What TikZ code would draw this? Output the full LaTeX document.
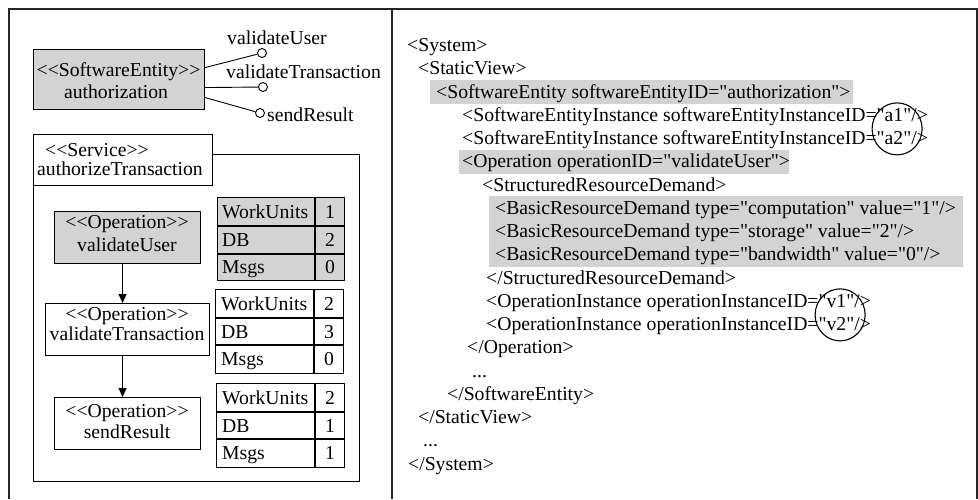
\documentclass[tikz,border=0pt]{standalone}
\usepackage{fontspec}
\newfontfamily\tnr{Liberation Serif}
\usetikzlibrary{arrows.meta,calc}
\definecolor{hl}{RGB}{211,211,211}
\tikzset{
  txt/.style={inner sep=0pt, font=\tnr\fontsize{19.7}{23}\selectfont},
  boxd/.style={draw=black, line width=1.1pt, inner sep=0pt, anchor=north west},
  framel/.style={draw=black!85, line width=1.8pt},
  tline/.style={draw=black, line width=1.1pt},
  lolli/.style={circle, draw=black, line width=0.9pt, minimum size=9pt, inner sep=0pt, fill=white},
  conn/.style={draw=black, line width=0.9pt},
  arr/.style={draw=black, line width=1pt, -{Triangle[width=8pt,length=9pt]}},
  hlbox/.style={fill=hl, draw=none},
  circ/.style={draw=black, line width=1.1pt}
}
\begin{document}
\begin{tikzpicture}[x=1pt,y=-1pt]
\useasboundingbox (0,0) rectangle (978,499);
% outer frame
\draw[framel] (9,499) -- (9,9) -- (977,9) -- (977,499);
\draw[framel] (392,9) -- (392,499);

% ---------------- left panel ----------------
\node[boxd, fill=hl, minimum width=171pt, minimum height=60pt] (se) at (33,49) {};
\node[txt, anchor=base] (seT1) at (118.5,76.5) {<<SoftwareEntity>>};
\node[txt, anchor=base] (seT2) at (116,98.5) {authorization};

\node[lolli] (c1) at (262,53) {};
\node[lolli] (c2) at (263,87) {};
\node[lolli] (c3) at (260,113) {};
\draw[conn] ([yshift=12pt]se.east) -- (c1);
\draw[conn] ([yshift=-8pt]se.east) -- (c2);
\draw[conn] ([yshift=-18pt]se.east) -- (c3);
\node[txt, anchor=base west] (l1) at (227,44.5) {validateUser};
\node[txt, anchor=base west] (l2) at (226,78.5) {validateTransaction};
\node[txt, anchor=base west] (l3) at (267,121.5) {sendResult};

% container and service
\node[boxd, minimum width=326pt, minimum height=327pt] (cont) at (33,154) {};
\node[boxd, fill=white, minimum width=179pt, minimum height=51pt] (svc) at (33,134) {};
\node[txt, anchor=base west] (svcT1) at (45,156.5) {<<Service>>};
\node[txt, anchor=base] (svcT2) at (120,175.5) {authorizeTransaction};

% operations
\node[boxd, fill=hl, minimum width=146pt, minimum height=52pt] (vU) at (54,211) {};
\node[txt, anchor=base] (vUT1) at (127,228.5) {<<Operation>>};
\node[txt, anchor=base] (vUT2) at (127,251.5) {validateUser};

\node[boxd, fill=white, minimum width=164pt, minimum height=52pt] (vT) at (45,303) {};
\node[txt, anchor=base] (vTT1) at (127,320.5) {<<Operation>>};
\node[txt, anchor=base] (vTT2) at (127,340) {validateTransaction};

\node[boxd, fill=white, minimum width=146pt, minimum height=52pt] (sR) at (54,397) {};
\node[txt, anchor=base] (sRT1) at (127,417.5) {<<Operation>>};
\node[txt, anchor=base] (sRT2) at (127,438.5) {sendResult};

\draw[arr] ([xshift=-5pt]vU.south) -- ([xshift=-5pt]vT.north);
\draw[arr] ([xshift=-5pt]vT.south) -- ([xshift=-5pt]sR.north);

% table 1
\node[boxd, fill=hl, minimum width=127pt, minimum height=83pt] (t1) at (217,197) {};
\draw[tline] (315,197) -- (315,280);
\draw[tline] (217,226) -- (344,226);
\draw[tline] (217,254) -- (344,254);
\node[txt, anchor=base west] (t1a) at (222,218) {WorkUnits};
\node[txt, anchor=base west] (t1b) at (222,246.5) {DB};
\node[txt, anchor=base west] (t1c) at (222,273.5) {Msgs};
\node[txt, anchor=base] (t1d) at (330,218) {1};
\node[txt, anchor=base] (t1e) at (330,246.5) {2};
\node[txt, anchor=base] (t1f) at (330,273.5) {0};

% table 2
\node[boxd, fill=white, minimum width=128pt, minimum height=84pt] (t2) at (215,289) {};
\draw[tline] (314,289) -- (314,373);
\draw[tline] (215,318) -- (343,318);
\draw[tline] (215,345) -- (343,345);
\node[txt, anchor=base west] (t2a) at (221,310) {WorkUnits};
\node[txt, anchor=base west] (t2b) at (221,338) {DB};
\node[txt, anchor=base west] (t2c) at (221,365.5) {Msgs};
\node[txt, anchor=base] (t2d) at (329,310) {2};
\node[txt, anchor=base] (t2e) at (329,338) {3};
\node[txt, anchor=base] (t2f) at (329,365.5) {0};

% table 3
\node[boxd, fill=white, minimum width=128pt, minimum height=84pt] (t3) at (216,383) {};
\draw[tline] (315,383) -- (315,467);
\draw[tline] (216,412) -- (344,412);
\draw[tline] (216,439) -- (344,439);
\node[txt, anchor=base west] (t3a) at (222,404) {WorkUnits};
\node[txt, anchor=base west] (t3b) at (222,432) {DB};
\node[txt, anchor=base west] (t3c) at (222,459.5) {Msgs};
\node[txt, anchor=base] (t3d) at (330,404) {2};
\node[txt, anchor=base] (t3e) at (330,432) {1};
\node[txt, anchor=base] (t3f) at (330,459.5) {1};

% ---------------- right panel ----------------
\fill[hlbox] (429.5,80) rectangle (853,104);
\fill[hlbox] (459,150) rectangle (789,174);
\fill[hlbox] (488.5,196) rectangle (963,267);

\node[txt, anchor=base west] (x0) at (407,51.5) {<System>};
\node[txt, anchor=base west] (x1) at (418,74.75) {<StaticView>};
\node[txt, anchor=base west] (x2) at (436,98) {<SoftwareEntity softwareEntityID="authorization">};
\node[txt, anchor=base west] (x3) at (462,121.25) {<SoftwareEntityInstance softwareEntityInstanceID="a1"/>};
\node[txt, anchor=base west] (x4) at (462,144.5) {<SoftwareEntityInstance softwareEntityInstanceID="a2"/>};
\node[txt, anchor=base west] (x5) at (462,167.75) {<Operation operationID="validateUser">};
\node[txt, anchor=base west] (x6) at (482,191) {<StructuredResourceDemand>};
\node[txt, anchor=base west] (x7) at (495,214.25) {<BasicResourceDemand type="computation" value="1"/>};
\node[txt, anchor=base west] (x8) at (495,237.5) {<BasicResourceDemand type="storage" value="2"/>};
\node[txt, anchor=base west] (x9) at (495,260.75) {<BasicResourceDemand type="bandwidth" value="0"/>};
\node[txt, anchor=base west] (x10) at (486,284) {</StructuredResourceDemand>};
\node[txt, anchor=base west] (x11) at (486,307.25) {<OperationInstance operationInstanceID="v1"/>};
\node[txt, anchor=base west] (x12) at (486,330.5) {<OperationInstance operationInstanceID="v2"/>};
\node[txt, anchor=base west] (x13) at (467,353.75) {</Operation>};
\node[txt, anchor=base west] (x14) at (472,377) {...};
\node[txt, anchor=base west] (x15) at (447,400.25) {</SoftwareEntity>};
\node[txt, anchor=base west] (x16) at (418,423.5) {</StaticView>};
\node[txt, anchor=base west] (x17) at (423,446.75) {...};
\node[txt, anchor=base west] (x18) at (408,470) {</System>};

\draw[circ] ($(x3.base east)!0.5!(x4.base east)+(-31,-4)$) ellipse [x radius=25, y radius=26];
\draw[circ] ($(x11.base east)!0.5!(x12.base east)+(-31,-4)$) ellipse [x radius=25, y radius=26];
\end{tikzpicture}
\end{document}
